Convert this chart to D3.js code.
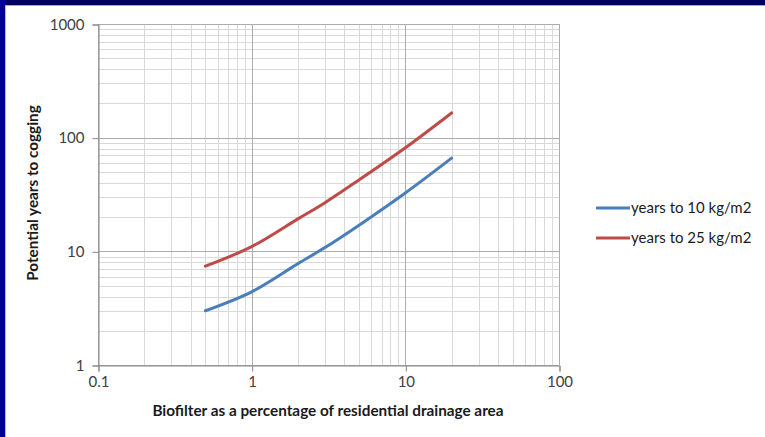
<!DOCTYPE html>
<html>
<head>
<meta charset="utf-8">
<script src="https://cdn.jsdelivr.net/npm/d3@7/dist/d3.min.js"></script>
<style>
  html, body { margin: 0; padding: 0; background: #ffffff; }
  svg { display: block; }
  text { font-family: Lato, "Open Sans", "Liberation Sans", sans-serif; }
</style>
</head>
<body>
<svg id="chart" width="765" height="437"></svg>
<script>
// Biofilter size (% of residential drainage area)
const areaPct = [0.5, 1, 2, 3, 5, 10, 20];
// Potential years to clogging for two sediment load limits
const years10 = [3.0, 4.4, 7.8, 10.8, 17.0, 32.6, 66];
const years25 = [7.4, 11.0, 19.3, 26.8, 42.5, 81.5, 165];
const seriesNames = ["years to 10 kg/m2", "years to 25 kg/m2"];
const xTicks = [0.1, 1, 10, 100];
const yTicks = [1, 10, 100, 1000];

const svg = d3.select("#chart");
const W = 765, H = 437;
const FONT = "Lato, 'Open Sans', 'Liberation Sans', sans-serif";

// slide frame
svg.append("rect").attr("x", 0).attr("y", 0).attr("width", W).attr("height", 5).attr("fill", "#00005a");
svg.append("rect").attr("x", 0).attr("y", 5).attr("width", W).attr("height", 1).attr("fill", "#a6a6b8");
svg.append("rect").attr("x", 0).attr("y", 0).attr("width", 5).attr("height", H).attr("fill", "#000096");
svg.append("rect").attr("x", 5).attr("y", 6).attr("width", 1).attr("height", H).attr("fill", "#b8b8d8");

const pLeft = 98, pRight = 559, pTop = 24, pBottom = 365;
const x = d3.scaleLog().domain([0.1, 100]).range([pLeft, pRight]);
const y = d3.scaleLog().domain([1, 1000]).range([pBottom, pTop]);

const g = svg.append("g");

// minor grid (2..9 within each decade)
const minorX = [], minorY = [];
for (let d = 0.1; d < 100; d *= 10) for (let k = 2; k <= 9; k++) minorX.push(d * k);
for (let d = 1; d < 1000; d *= 10) for (let k = 2; k <= 9; k++) minorY.push(d * k);

g.selectAll("line.mx").data(minorX).join("line")
  .attr("x1", d => Math.round(x(d)) + 0.5).attr("x2", d => Math.round(x(d)) + 0.5)
  .attr("y1", pTop).attr("y2", pBottom)
  .attr("stroke", "#d9d9d9").attr("stroke-width", 1);
g.selectAll("line.my").data(minorY).join("line")
  .attr("y1", d => Math.round(y(d)) + 0.5).attr("y2", d => Math.round(y(d)) + 0.5)
  .attr("x1", pLeft).attr("x2", pRight)
  .attr("stroke", "#d9d9d9").attr("stroke-width", 1);

// major grid
g.selectAll("line.Mx").data(xTicks).join("line")
  .attr("x1", d => Math.round(x(d)) + 0.5).attr("x2", d => Math.round(x(d)) + 0.5)
  .attr("y1", pTop).attr("y2", pBottom)
  .attr("stroke", "#acacac").attr("stroke-width", 1);
g.selectAll("line.My").data(yTicks).join("line")
  .attr("y1", d => Math.round(y(d)) + 0.5).attr("y2", d => Math.round(y(d)) + 0.5)
  .attr("x1", pLeft).attr("x2", pRight)
  .attr("stroke", "#acacac").attr("stroke-width", 1);

// axes
const fmt = d => String(d);
const xAxis = d3.axisBottom(x).tickValues(xTicks).tickFormat(fmt).tickSize(6).tickPadding(5);
const yAxis = d3.axisLeft(y).tickValues(yTicks).tickFormat(fmt).tickSize(6).tickPadding(8);

const gx = svg.append("g").attr("transform", `translate(0.5,${pBottom + 0.5})`).call(xAxis);
const gy = svg.append("g").attr("transform", `translate(${pLeft + 0.5},0.5)`).call(yAxis);
[gx, gy].forEach(a => {
  a.select(".domain").attr("stroke", "#868686");
  a.selectAll(".tick line").attr("stroke", "#868686");
  a.selectAll(".tick text").attr("fill", "#404040").style("font-size", "15px")
    .style("font-family", FONT);
});

// series lines
const line = d3.line().x(d => x(d[0])).y(d => y(d[1])).curve(d3.curveCatmullRom.alpha(0.5));
const series = [
  { name: seriesNames[0], values: years10, color: "#4a7ebb" },
  { name: seriesNames[1], values: years25, color: "#be4b48" }
];
svg.selectAll("path.series").data(series).join("path")
  .attr("class", "series")
  .attr("d", s => line(areaPct.map((a, i) => [a, s.values[i]])))
  .attr("fill", "none").attr("stroke", s => s.color)
  .attr("stroke-width", 3).attr("stroke-linecap", "round");

// axis titles
svg.append("text").attr("x", 328).attr("y", 416).attr("text-anchor", "middle")
  .style("font-size", "15.3px").style("font-weight", "bold").attr("fill", "#1a1a1a")
  .text("Biofilter as a percentage of residential drainage area");
svg.append("text").attr("transform", "translate(38,193) rotate(-90)").attr("text-anchor", "middle")
  .style("font-size", "15.3px").style("font-weight", "bold").attr("fill", "#1a1a1a")
  .text("Potential years to cogging");

// legend
const lg = svg.append("g").attr("transform", "translate(596,208)");
const items = lg.selectAll("g").data(series).join("g")
  .attr("transform", (d, i) => `translate(0,${i * 30})`);
items.append("line").attr("x1", 0).attr("x2", 34).attr("y1", 0).attr("y2", 0)
  .attr("stroke", d => d.color).attr("stroke-width", 3);
items.append("text").attr("x", 35).attr("y", 0).attr("dy", "0.35em")
  .style("font-size", "15px").attr("fill", "#1a1a1a").text(d => d.name);
</script>
</body>
</html>
